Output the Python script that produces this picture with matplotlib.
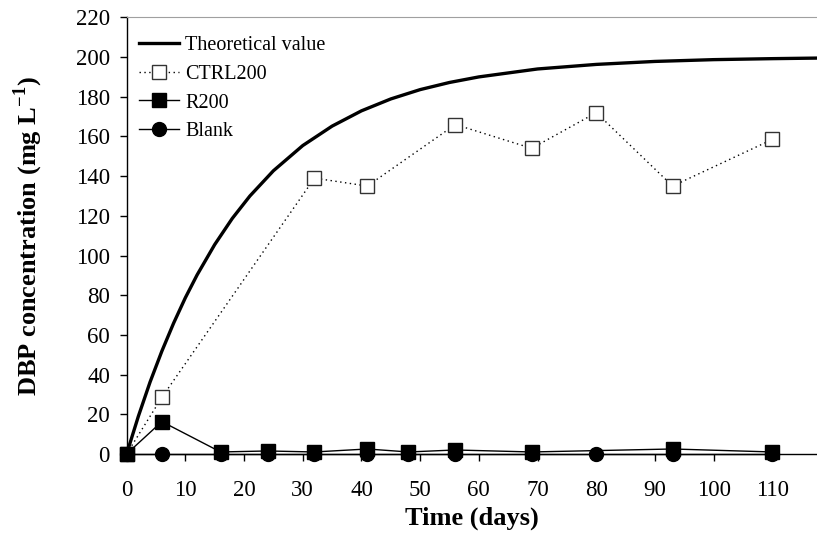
import numpy as np
import matplotlib
matplotlib.use("Agg")
import matplotlib.pyplot as plt

plt.rcParams['font.family'] = ['Liberation Serif', 'DejaVu Serif']
plt.rcParams['mathtext.fontset'] = 'custom'
plt.rcParams['mathtext.rm'] = 'Liberation Serif'
plt.rcParams['mathtext.bf'] = 'Liberation Serif:bold'

theo_days = [0, 2, 4, 6, 8, 10, 12, 15, 18, 21, 25, 30, 35, 40, 45, 50, 55, 60,
             70, 80, 90, 100, 110, 118]
theo_conc = [0, 19.0, 36.3, 51.8, 65.9, 78.7, 90.2, 105.5, 118.7, 130.0, 142.7,
             155.4, 165.2, 172.9, 178.9, 183.6, 187.2, 190.0, 194.0, 196.3,
             197.8, 198.7, 199.2, 199.5]

# measured series
ctrl_days = [0, 6, 32, 41, 56, 69, 80, 93, 110]
ctrl_conc = [0, 28.5, 139, 135, 166, 154, 172, 135, 158.5]

r200_days = [0, 6, 16, 24, 32, 41, 48, 56, 69, 93, 110]
r200_conc = [0, 16.3, 1.0, 1.5, 1.0, 2.5, 1.0, 2.0, 1.0, 2.5, 1.0]

blank_days = [0, 6, 16, 24, 32, 41, 48, 56, 69, 80, 93, 110]
blank_conc = [0, 0, 0, 0, 0, 0, 0, 0, 0, 0, 0, 0]

fig = plt.figure(figsize=(8.17, 5.43), dpi=100)
ax = fig.add_axes([0.155, 0.164, 0.845, 0.804])

ax.plot(theo_days, theo_conc, color='black', lw=2.4, label='Theoretical value')
ax.plot(ctrl_days, ctrl_conc, color='black', lw=1, ls=(0, (1, 2.5)),
        marker='s', markersize=10, markerfacecolor='white',
        markeredgecolor='#333333', markeredgewidth=1, label='CTRL200',
        clip_on=False)
ax.plot(blank_days, blank_conc, color='black', lw=1, marker='o',
        markersize=10, markerfacecolor='black', markeredgecolor='black',
        label='Blank', zorder=3, clip_on=False)
ax.plot(r200_days, r200_conc, color='black', lw=1, marker='s',
        markersize=9.5, markerfacecolor='black', markeredgecolor='black',
        label='R200', zorder=3, clip_on=False)

ax.set_xlim(0, 117.6)
ax.set_ylim(0, 220)
ax.set_xticks(np.arange(0, 111, 10))
ax.set_yticks(np.arange(0, 221, 20))
ax.tick_params(axis='x', direction='out', length=5, width=1, pad=14, labelsize=16.5)
ax.tick_params(axis='y', direction='out', length=5, width=1, pad=7, labelsize=16.5)

ax.spines['right'].set_visible(False)
ax.spines['top'].set_color('#a0a0a0')
ax.spines['left'].set_linewidth(1)
ax.spines['bottom'].set_linewidth(1)

ax.set_xlabel('Time (days)', fontsize=19, fontweight='bold', labelpad=4)
ax.set_ylabel(r'DBP concentration (mg L$^{\mathbf{-1}}$)', fontsize=19,
              fontweight='bold', labelpad=22)

handles, labels = ax.get_legend_handles_labels()
order = [0, 1, 3, 2]
ax.legend([handles[i] for i in order], [labels[i] for i in order],
          loc='upper left', frameon=False, fontsize=14.5, handlelength=2.0,
          handletextpad=0.3, labelspacing=0.48, borderaxespad=0.0,
          bbox_to_anchor=(0.006, 0.976))

fig.savefig('out.png', dpi=100)
